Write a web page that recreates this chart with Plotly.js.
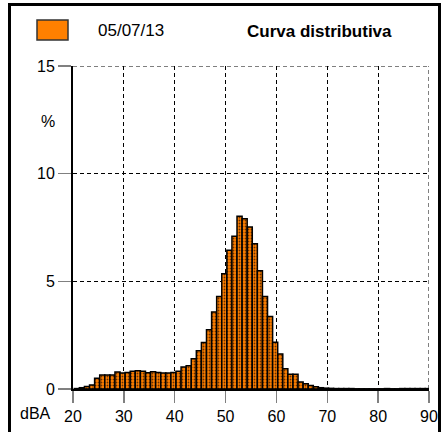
<!DOCTYPE html>
<html>
<head>
<meta charset="utf-8">
<script src="https://cdn.plot.ly/plotly-3.0.1.min.js"></script>
<style>
html,body{margin:0;padding:0;background:#fff;}
#chart{width:442px;height:432px;}
</style>
</head>
<body>
<div id="chart"></div>
<script>
// dBA classes (1 dB bins)
var dBA = [21,22,23,24,25,26,27,28,29,30,
           31,32,33,34,35,36,37,38,39,40,
           41,42,43,44,45,46,47,48,49,50,
           51,52,53,54,55,56,57,58,59,60,
           61,62,63,64,65,66,67,68,69,70,
           71,72,73,74,75,76,77,78,79,80,
           81,82,83,84,85,86,87,88,89,90];
// percentage of time in each class
var percent = [0.02,0.06,0.12,0.19,0.50,0.65,0.65,0.65,0.79,0.74,
               0.77,0.82,0.85,0.82,0.76,0.80,0.77,0.74,0.74,0.77,
               0.82,1.02,1.08,1.41,1.78,2.16,2.75,3.58,4.30,5.35,
               6.44,7.09,8.02,7.91,7.52,6.75,5.49,4.30,3.37,2.17,
               1.63,0.94,0.68,0.68,0.32,0.24,0.16,0.10,0.06,0.04,
               0.03,0.02,0.02,0.02,0.02,0.01,0.01,0.01,0.01,0.01,
               0.01,0.02,0.01,0.01,0.02,0.02,0.02,0.02,0.02,0.02];
var xTicks = [20,30,40,50,60,70,80,90];
var yTicks = [0,5,10,15];
var seriesName = "05/07/13";
var chartTitle = "Curva distributiva";
var xUnit = "dBA";
var yUnit = "%";

var W = 442, H = 432;
var M = {l:73, r:13, t:66, b:43};
var PW = W - M.l - M.r, PH = H - M.t - M.b;
function px(xp){ return (xp - M.l) / PW; }
function py(yp){ return (H - M.b - yp) / PH; }

var FONT = "Liberation Sans, Arial, sans-serif";
var orange = "#FF8000";
var DASH = "4px,3px";

var trace = {
  type: "bar",
  x: dBA,
  y: percent,
  width: 1,
  offset: -0.75,
  name: seriesName,
  marker: {
    color: orange,
    line: {color: "#000", width: 1.5},
    pattern: {shape: ".", bgcolor: orange, fgcolor: "#6a3000", size: 3, solidity: 0.3}
  },
  hoverinfo: "skip"
};

var xMax = xTicks[xTicks.length-1], yMax = yTicks[yTicks.length-1];

var layout = {
  width: W, height: H,
  margin: {l:M.l, r:M.r, t:M.t, b:M.b, pad:0, autoexpand:false},
  paper_bgcolor: "#fff", plot_bgcolor: "#fff",
  showlegend: false,
  bargap: 0,
  font: {family: FONT, size: 16, color: "#000"},
  xaxis: {
    range: [xTicks[0], xMax], tickmode: "array", tickvals: xTicks, ticktext: xTicks.map(String),
    ticks: "outside", ticklen: 12, tickwidth: 1.5, tickcolor: "#808080",
    showline: true, linecolor: "#000", linewidth: 2,
    showgrid: true, gridcolor: "#000", gridwidth: 1, griddash: DASH,
    zeroline: false, tickfont: {family: FONT, size: 16, color: "#000"}, fixedrange: true
  },
  yaxis: {
    range: [yTicks[0], yMax], tickmode: "array", tickvals: yTicks, ticktext: yTicks.map(String),
    ticks: "outside", ticklen: 13, tickwidth: 1.5, tickcolor: "#808080",
    showline: true, linecolor: "#000", linewidth: 2,
    showgrid: true, gridcolor: "#000", gridwidth: 1, griddash: DASH,
    zeroline: false, tickfont: {family: FONT, size: 16, color: "#000"}, fixedrange: true
  },
  shapes: [
    {type:"line", xref:"paper", yref:"y", x0:0, x1:1, y0:yMax, y1:yMax,
     line:{color:"#000", width:1, dash:DASH}, layer:"below"},
    {type:"line", xref:"x", yref:"paper", x0:xMax, x1:xMax, y0:0, y1:1,
     line:{color:"#000", width:1, dash:DASH}, layer:"below"},
    {type:"rect", xref:"paper", yref:"paper", x0:px(9.5), x1:px(439.5), y0:py(445), y1:py(4.5),
     line:{color:"#000", width:3}, fillcolor:"rgba(0,0,0,0)", layer:"above"},
    {type:"rect", xref:"paper", yref:"paper", x0:px(37), x1:px(68), y0:py(40), y1:py(20),
     line:{color:"#333", width:1.5}, fillcolor:orange, layer:"above"}
  ],
  annotations: [
    {text: seriesName, xref:"paper", yref:"paper", x:px(96), y:py(30), xanchor:"left", yanchor:"middle",
     showarrow:false, font:{family:FONT, size:17, color:"#000"}},
    {text: "<b>"+chartTitle+"</b>", xref:"paper", yref:"paper", x:px(245), y:py(31), xanchor:"left", yanchor:"middle",
     showarrow:false, font:{family:FONT, size:17, color:"#000"}},
    {text: yUnit, xref:"paper", yref:"paper", x:px(48), y:py(121), xanchor:"center", yanchor:"middle",
     showarrow:false, font:{family:FONT, size:16, color:"#000"}},
    {text: xUnit, xref:"paper", yref:"paper", x:px(35), y:py(413), xanchor:"center", yanchor:"middle",
     showarrow:false, font:{family:FONT, size:16, color:"#000"}}
  ]
};

Plotly.newPlot("chart", [trace], layout, {displayModeBar:false, staticPlot:true});
</script>
</body>
</html>
